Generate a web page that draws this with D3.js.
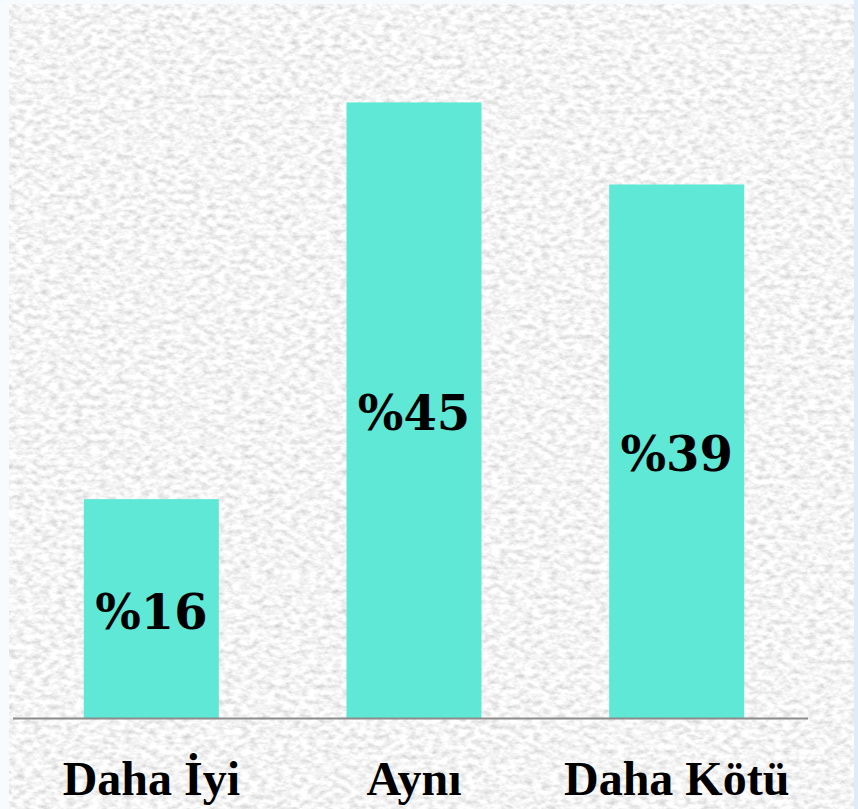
<!DOCTYPE html>
<html>
<head>
<meta charset="utf-8">
<script src="https://cdn.jsdelivr.net/npm/d3@7"></script>
<style>
  html, body { margin: 0; padding: 0; background: #f8fbfe; }
  svg { display: block; }
</style>
</head>
<body>
<div id="chart"></div>
<script>
const categories = ["Daha İyi", "Aynı", "Daha Kötü"];
const values = [16, 45, 39];
const valueLabels = ["%16", "%45", "%39"];

const width = 858;
const height = 809;
const baseY = 718;

const svg = d3
  .select("#chart")
  .append("svg")
  .attr("width", width)
  .attr("height", height);

// granite-like background
const defs = svg.append("defs");
const filter = defs.append("filter")
  .attr("id", "granite")
  .attr("x", 0).attr("y", 0).attr("width", 1).attr("height", 1);
filter.append("feTurbulence")
  .attr("type", "fractalNoise")
  .attr("baseFrequency", "0.12 0.2")
  .attr("numOctaves", 3)
  .attr("seed", 7);
filter.append("feColorMatrix")
  .attr("type", "matrix")
  .attr("values", "0.65 0 0 0 0.58  0.65 0 0 0 0.58  0.65 0 0 0 0.58  0 0 0 0 1");

svg.append("rect")
  .attr("x", 0).attr("y", 0).attr("width", width).attr("height", height)
  .attr("fill", "#f8fbfe");
svg.append("rect")
  .attr("x", 854).attr("y", 0).attr("width", 4).attr("height", height)
  .attr("fill", "#dcecfa");
svg.append("rect")
  .attr("x", 9).attr("y", 4).attr("width", 845).attr("height", height - 4)
  .attr("filter", "url(#granite)");

const xScale = d3
  .scaleBand()
  .domain(categories)
  .range([20, 808])
  .paddingInner(0.486)
  .paddingOuter(0.243);

const yScale = d3
  .scaleLinear()
  .domain([0, 50])
  .range([baseY, 34]);

svg.selectAll(".bar")
  .data(values)
  .enter()
  .append("rect")
  .attr("class", "bar")
  .attr("x", (d, i) => xScale(categories[i]))
  .attr("width", xScale.bandwidth())
  .attr("y", (d) => yScale(d))
  .attr("height", (d) => baseY - yScale(d))
  .attr("fill", "#5fe8d6");

// baseline axis
const xAxis = svg.append("g")
  .attr("transform", "translate(0," + baseY + ")")
  .call(d3.axisBottom(xScale).tickSize(0).tickPadding(0).tickFormat(""));
xAxis.select(".domain")
  .attr("d", "M13,0.5H808")
  .attr("stroke", "#8c8c8c")
  .attr("stroke-width", 2);

// value labels
svg.selectAll(".value")
  .data(values)
  .enter()
  .append("text")
  .attr("class", "value")
  .attr("x", (d, i) => xScale(categories[i]) + xScale.bandwidth() / 2)
  .attr("y", (d) => (yScale(d) + baseY) / 2 + 20)
  .attr("text-anchor", "middle")
  .style("font-family", "'DejaVu Serif', serif")
  .style("font-weight", "bold")
  .style("font-size", "48px")
  .style("fill", "#000")
  .text((d, i) => valueLabels[i]);

// category labels
svg.selectAll(".cat")
  .data(categories)
  .enter()
  .append("text")
  .attr("class", "cat")
  .attr("x", (d) => xScale(d) + xScale.bandwidth() / 2)
  .attr("y", 795)
  .attr("text-anchor", "middle")
  .style("font-family", "'Liberation Serif', serif")
  .style("font-weight", "bold")
  .style("font-size", "48px")
  .style("fill", "#000")
  .text((d) => d);
</script>
</body>
</html>
